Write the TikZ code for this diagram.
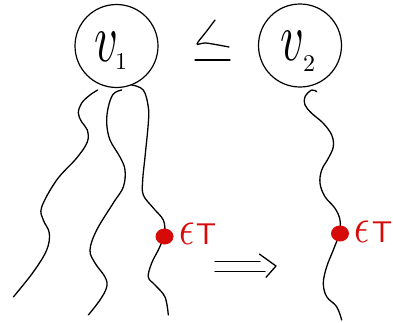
\documentclass[tikz,border=0pt]{standalone}
\usetikzlibrary{shapes.geometric}
\definecolor{inkred}{RGB}{215,10,10}
\begin{document}
\begin{tikzpicture}[x=1pt,y=-1pt,
  ink/.style={line width=1.3pt, line cap=round, line join=round},
  ball/.style={draw, circle, line width=1.2pt, minimum size=83pt, inner sep=0pt},
  vlab/.style={inner sep=0pt},
  sublab/.style={inner sep=0pt},
  reddot/.style={ellipse, fill=inkred, minimum width=18pt, minimum height=16pt, inner sep=0pt},
  redlab/.style={inner sep=0pt, text=inkred},
  wig/.style={ink, smooth, tension=0.6}]
\useasboundingbox (0,0) rectangle (393,322);
% balls
\node[ball] (c1) at (116.5,46) {};
\node[ball] (c2) at (300,45.5) {};
\node[vlab] (v1) at (106,47) {\scalebox{4.6}[6.8]{$v$}};
\node[sublab] (s1) at (121,62) {\scalebox{2.4}{$1$}};
\node[vlab] (v2) at (292,46) {\scalebox{4.6}[6.8]{$v$}};
\node[sublab] (s2) at (309,64) {\scalebox{2.4}{$2$}};
% order symbol
\draw[ink] plot[smooth, tension=0.5] coordinates {(215,20) (206,32) (197,44) (206,43) (229,47)};
\draw[ink] (195,60) -- (230,60);
% left strands
\draw[wig] plot coordinates {(97.7,90) (90,95) (81.7,103) (78.3,113) (81.7,122) (87.3,130) (87.3,142) (76.7,158) (56.7,180) (41.7,207) (43.3,220) (49.3,233) (46.7,250) (33.3,272) (13.3,297)};
\draw[wig] plot coordinates {(121.7,90) (113.3,94) (108.3,107) (106.7,123) (110,140) (120,157) (125,170) (123.3,187) (113.3,203) (96.7,230) (90,250) (95,263) (105,277) (106.7,287) (100,300) (88.3,315)};
\draw[wig] plot coordinates {(131.7,85) (143.3,90) (148.3,107) (148.3,123) (145,157) (142.7,180) (143.3,195) (153.3,208) (163.3,220) (165,233) (164,237) (158.3,250) (151.7,263) (148.3,277) (155,285) (165,297) (168.3,315)};
% right strand
\draw[wig] plot coordinates {(316.7,91.7) (311.7,90) (305,96.7) (305,105) (311.7,113.3) (323.3,123.3) (331.7,135) (333.3,146.7) (328.3,158.3) (321.7,170) (320,183.3) (325,196.7) (335,208.3) (340,220) (339.3,233.3) (333.3,250) (326.7,266.7) (323.3,283.3) (326.7,296.7) (336.7,306.7) (341.7,320)};
% red marks
\node[reddot] (d1) at (164.5,236.5) {};
\node[redlab] (e1) at (187,234) {\scalebox{3.8}[5]{$\epsilon$}};
\node[redlab] (t1) at (206,234) {\scalebox{3}{\textsf{T}}};
\node[reddot] (d2) at (340,233.5) {};
\node[redlab] (e2) at (362,232) {\scalebox{3.8}[5]{$\epsilon$}};
\node[redlab] (t2) at (382,232) {\scalebox{3}{\textsf{T}}};
% implication arrow
\draw[ink] (215,261.7) -- (260,261.7);
\draw[ink] (215,271.7) -- (265,271.7);
\draw[ink] (259.3,254) -- (276,266) -- (266,277.3);
\end{tikzpicture}
\end{document}
